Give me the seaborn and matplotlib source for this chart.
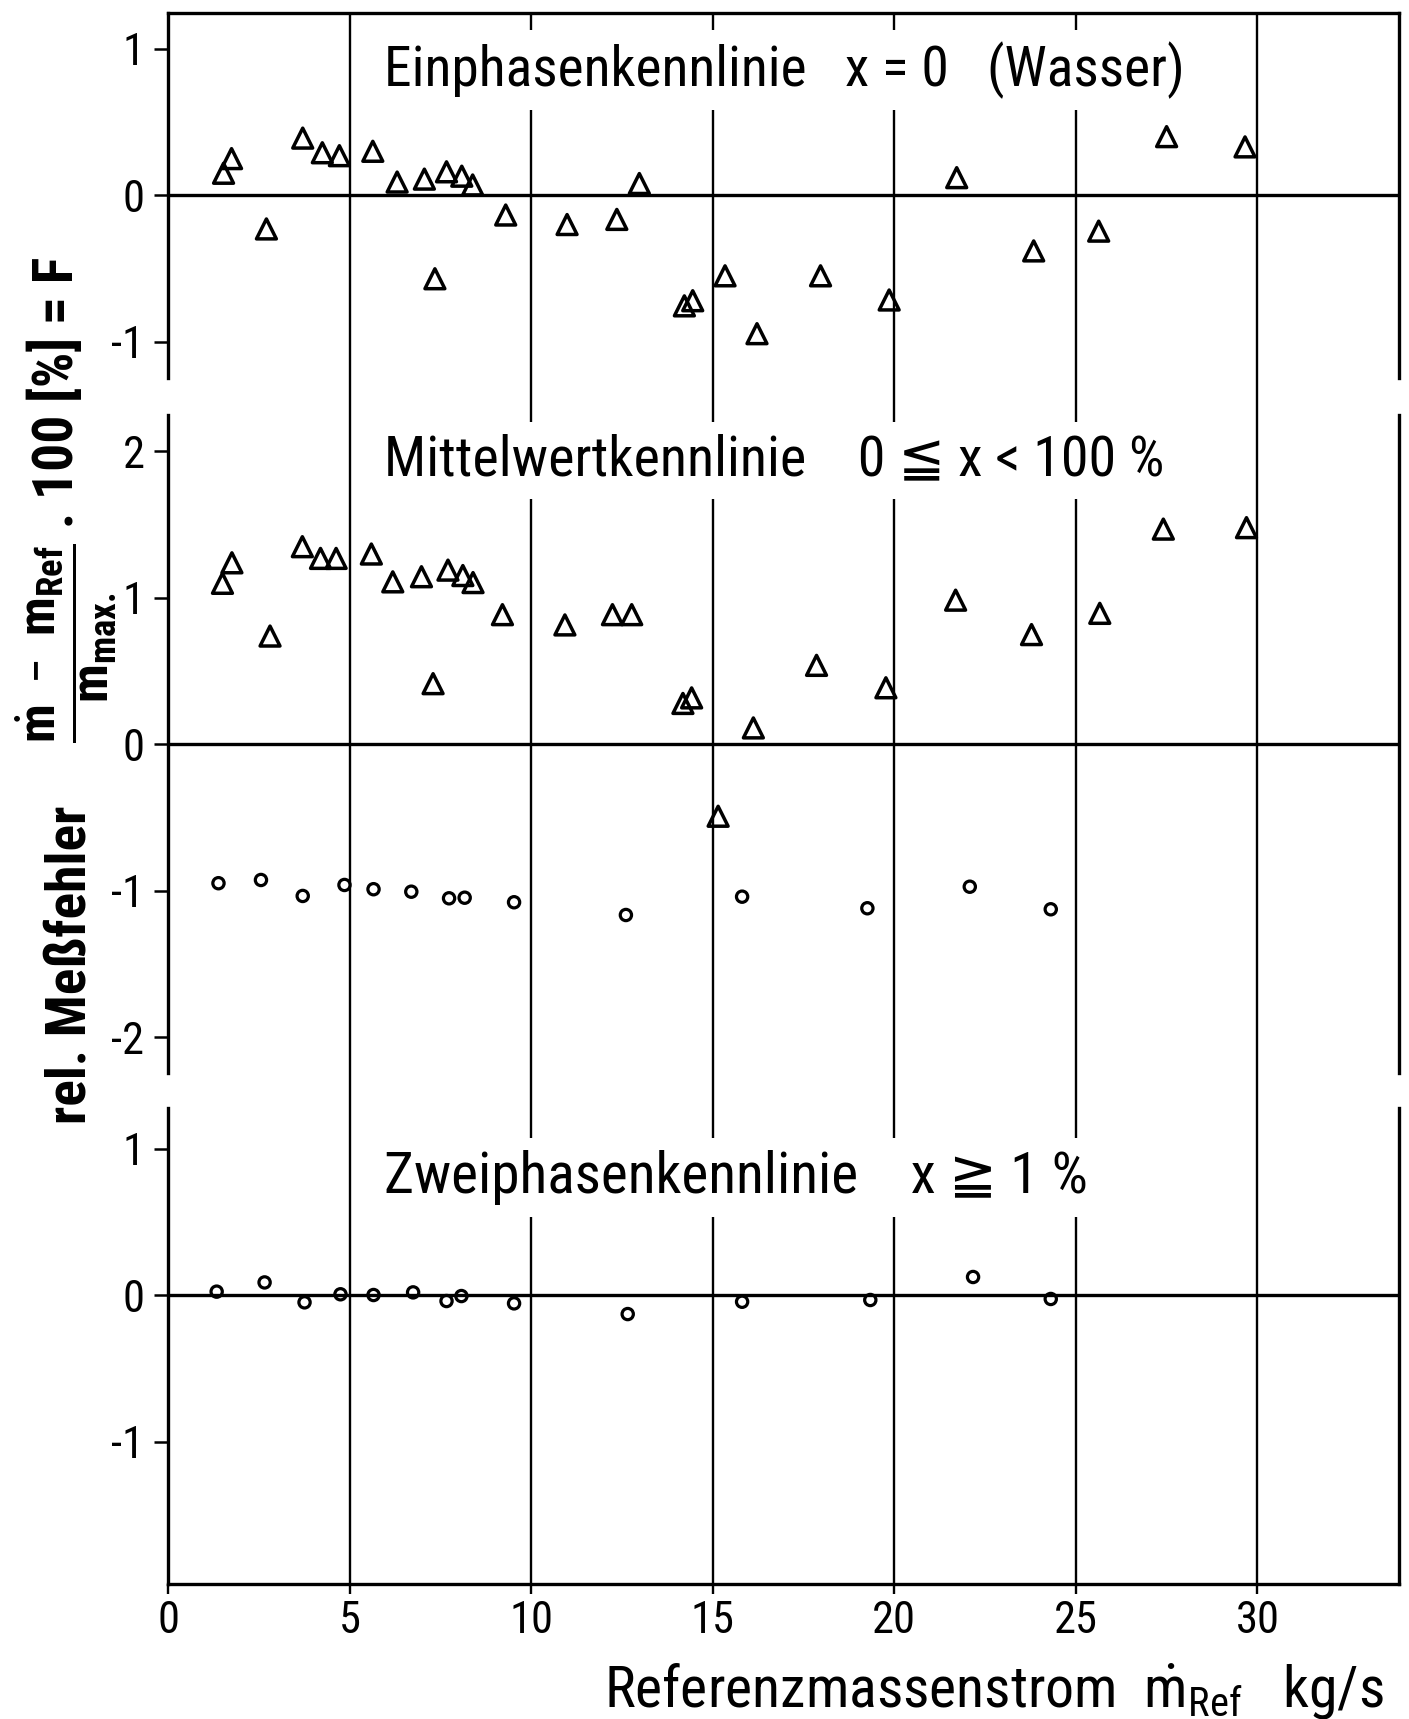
import matplotlib
matplotlib.use("Agg")
import matplotlib.pyplot as plt
import matplotlib.font_manager as fm
import seaborn as sns
import pandas as pd

# ---------------- data ----------------
x_ein = [1.53, 1.75, 2.71, 3.71, 4.25, 4.72, 5.64, 6.31, 7.06, 7.35, 7.67, 8.09, 8.39, 9.30,
         10.99, 12.36, 12.98, 14.22, 14.45, 15.34, 16.22, 17.97, 19.86, 21.72, 23.84, 25.63,
         27.50, 29.66]
F_ein = [0.15, 0.25, -0.23, 0.39, 0.29, 0.27, 0.30, 0.09, 0.11, -0.57, 0.16, 0.13, 0.07, -0.135,
         -0.20, -0.165, 0.08, -0.755, -0.72, -0.55, -0.945, -0.55, -0.715, 0.12, -0.38, -0.245,
         0.40, 0.33]

x_mit_tri = [1.50, 1.76, 2.81, 3.70, 4.20, 4.63, 5.60, 6.19, 6.98, 7.30, 7.71, 8.12, 8.40, 9.21,
             10.93, 12.24, 12.77, 14.18, 14.42, 15.15, 16.12, 17.86, 19.77, 21.69, 23.78, 25.66,
             27.41, 29.70]
F_mit_tri = [1.10, 1.24, 0.74, 1.35, 1.27, 1.27, 1.30, 1.11, 1.145, 0.415, 1.19, 1.153, 1.105, 0.886,
             0.816, 0.886, 0.886, 0.28, 0.318, -0.49, 0.113, 0.54, 0.387, 0.985, 0.75, 0.895,
             1.47, 1.48]

x_mit_circ = [1.39, 2.56, 3.71, 4.86, 5.66, 6.70, 7.74, 8.17, 9.53, 12.61, 15.81, 19.26, 22.08, 24.31]
F_mit_circ = [-0.947, -0.925, -1.034, -0.959, -0.988, -1.005, -1.05, -1.046, -1.077, -1.164,
              -1.039, -1.118, -0.971, -1.125]

x_zwei = [1.34, 2.66, 3.76, 4.75, 5.66, 6.75, 7.67, 8.08, 9.53, 12.66, 15.81, 19.34, 22.17, 24.31]
F_zwei = [0.023, 0.086, -0.05, 0.005, 0.0, 0.018, -0.041, -0.007, -0.057, -0.13, -0.046, -0.034,
          0.123, -0.027]

x_ticks = [0, 5, 10, 15, 20, 25, 30]
y_ticks_1 = [-1, 0, 1]
y_ticks_2 = [-2, -1, 0, 1, 2]
y_ticks_3 = [-1, 0, 1]

title_1 = "Einphasenkennlinie   x = 0   (Wasser)"
title_2 = "Mittelwertkennlinie    0 \u2266 x < 100 %"
title_3 = "Zweiphasenkennlinie    x \u2267 1 %"
xlabel_txt = r"Referenzmassenstrom  $\dot{\mathrm{m}}_{\mathrm{Ref}}$   kg/s"
ylab_a = "rel. Meßfehler"
ylab_b = (r"$\dfrac{\dot{\mathbf{m}}\ -\ \mathbf{m}_{\mathbf{Ref}}}"
          r"{\mathbf{m}_{\mathbf{max.}}}$")
ylab_c = ". 100 [%] = F"

# ---------------- style ----------------
sns.set_theme(style="white")
entries = fm.fontManager.ttflist
names = {f.name for f in entries}
MAIN, STRETCH = None, None
for c in ["Liberation Sans Narrow", "Roboto Condensed", "Noto Sans Condensed",
          "Open Sans Condensed", "DejaVu Sans Condensed"]:
    if c in names:
        MAIN = c
        break
if MAIN is None:
    for fam in ["Roboto", "Noto Sans", "DejaVu Sans", "Open Sans"]:
        if any(f.name == fam and f.stretch in ("condensed", "semi-condensed") for f in entries):
            MAIN, STRETCH = fam, "condensed"
            break
if MAIN is None:
    MAIN = "Roboto" if "Roboto" in names else "DejaVu Sans"

plt.rcParams["font.family"] = [MAIN, "DejaVu Sans"]
if STRETCH:
    plt.rcParams["font.stretch"] = STRETCH
for k in ["text.color", "axes.labelcolor", "xtick.color", "ytick.color"]:
    plt.rcParams[k] = "black"
plt.rcParams["axes.unicode_minus"] = False
plt.rcParams["mathtext.fontset"] = "custom"
suffix = ":stretch=condensed" if STRETCH else ""
plt.rcParams["mathtext.rm"] = MAIN + suffix
plt.rcParams["mathtext.it"] = MAIN + suffix
plt.rcParams["mathtext.bf"] = MAIN + ":bold" + suffix

W, H = 1409, 1719
fig = plt.figure(figsize=(W / 100, H / 100), dpi=100)
fig.patch.set_facecolor("white")


def P(xp, yp):
    return xp / W, 1 - yp / H


ylims = [(-1.374, 1.244), (-2.362, 2.375), (-1.976, 1.396)]
spine_b = [(-1.248, 1.244), (-2.242, 2.249), (-1.976, 1.276)]
yticks = [y_ticks_1, y_ticks_2, y_ticks_3]
gs = fig.add_gridspec(3, 1, height_ratios=[y[1] - y[0] for y in ylims], hspace=0,
                      left=168 / W, right=1399 / W, top=1 - 13 / H, bottom=1 - 1584.5 / H)
axes = [fig.add_subplot(gs[i]) for i in range(3)]

LW_SP = 2.4
for i, ax in enumerate(axes):
    ax.set_facecolor("white")
    ax.set_xlim(0, 33.9)
    ax.set_ylim(*ylims[i])
    ax.set_xticks(x_ticks)
    ax.set_yticks(yticks[i])
    ax.set_yticklabels([str(t) for t in yticks[i]])
    ax.grid(False)
    for xv in x_ticks[1:]:
        ax.axvline(xv, color="black", lw=1.7, zorder=0.5)
    ax.axhline(0, color="black", lw=2.4, zorder=1)
    for s in ["left", "right"]:
        ax.spines[s].set_visible(True)
        ax.spines[s].set_color("black")
        ax.spines[s].set_linewidth(LW_SP)
        ax.spines[s].set_bounds(*spine_b[i])
    ax.spines["top"].set_visible(i == 0)
    ax.spines["bottom"].set_visible(i == 2)
    for s in ["top", "bottom"]:
        ax.spines[s].set_color("black")
        ax.spines[s].set_linewidth(LW_SP)
    ax.tick_params(axis="y", direction="out", length=10, width=1.8, pad=7,
                   labelsize=32, left=True, colors="black")
    if i < 2:
        ax.tick_params(axis="x", bottom=False, labelbottom=False)
    else:
        ax.tick_params(axis="x", direction="out", length=7, width=1.7, pad=4,
                       labelsize=32, bottom=True, colors="black")


# ---------------- points ----------------
def pts(ax, xs, ys, marker, s, lw):
    df = pd.DataFrame({"x": xs, "y": ys})
    sns.scatterplot(data=df, x="x", y="y", ax=ax, marker=marker, s=s,
                    facecolor="none", edgecolor="black", linewidth=lw, zorder=4, legend=False)
    ax.collections[-1].set_facecolor("none")
    ax.set_xlabel("")
    ax.set_ylabel("")


pts(axes[0], x_ein, F_ein, "^", 205, 2.5)
pts(axes[1], x_mit_tri, F_mit_tri, "^", 205, 2.5)
pts(axes[1], x_mit_circ, F_mit_circ, "o", 66, 2.3)
pts(axes[2], x_zwei, F_zwei, "o", 66, 2.3)

# ---------------- texts ----------------
renderer = fig.canvas.get_renderer()


def fit(t, target, vertical=False):
    for _ in range(3):
        bb = t.get_window_extent(renderer=renderer)
        cur = bb.height if vertical else bb.width
        if cur > 0:
            t.set_fontsize(t.get_fontsize() * target / cur)


box = dict(facecolor="white", edgecolor="none", pad=7)
t1 = axes[0].text(5.95, 0.855, title_1, fontsize=34, ha="left", va="center", bbox=box, zorder=3)
t2 = axes[1].text(5.95, 1.94, title_2, fontsize=34, ha="left", va="center", bbox=box, zorder=3)
t3 = axes[2].text(5.95, 0.80, title_3, fontsize=34, ha="left", va="center", bbox=box, zorder=3)
fit(t1, 800)
fit(t2, 780)
fit(t3, 704)

xl = fig.text(*P(1384, 1707), xlabel_txt, fontsize=34, ha="right", va="baseline")
fit(xl, 780)

ya = fig.text(*P(86, 1124), ylab_a, fontsize=32, fontweight="bold", rotation=90,
              rotation_mode="anchor", ha="left", va="baseline")
fit(ya, 318, vertical=True)
yb = fig.text(*P(66, 643), ylab_b, fontsize=32, rotation=90,
              rotation_mode="anchor", ha="center", va="center")
fit(yb, 200, vertical=True)
yc = fig.text(*P(73, 528), ylab_c, fontsize=32, fontweight="bold", rotation=90,
              rotation_mode="anchor", ha="left", va="baseline")
fit(yc, 271, vertical=True)

fig.savefig("out.png", dpi=100, facecolor="white")
